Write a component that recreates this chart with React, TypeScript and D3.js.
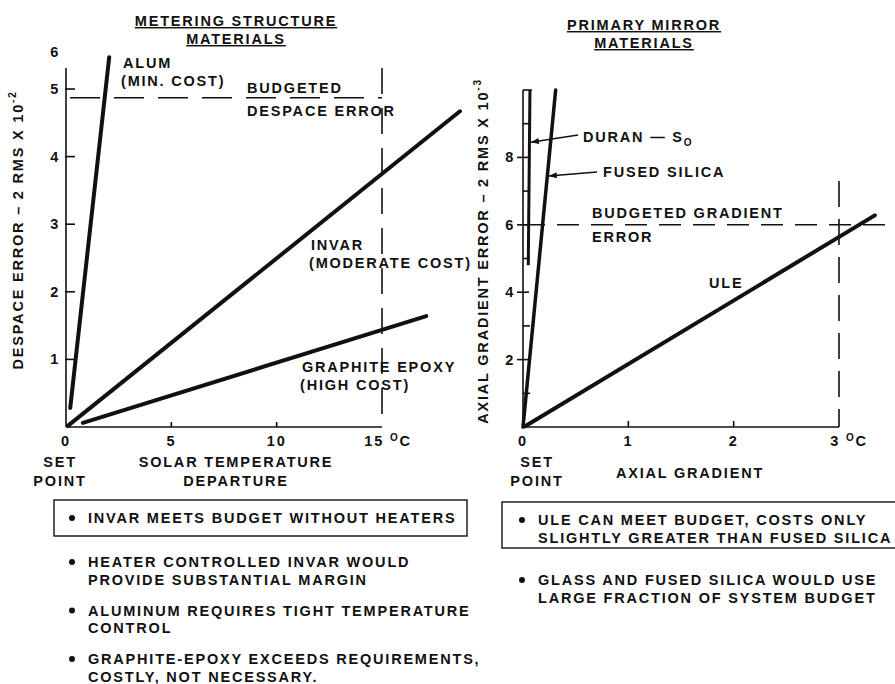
import React from 'react';
import * as d3 from 'd3';

type Pt = [number, number];

// ---- Metering structure materials: despace error (x10^-2) vs solar temperature departure (°C)
const meterXTicks = [0, 5, 10, 15];
const meterYTicks = [1, 2, 3, 4, 5];
const meterYTop = 5.31;
const alumLine: Pt[] = [[0.2, 0.28], [2.05, 5.47]];
const invarLine: Pt[] = [[0.1, 0.02], [18.7, 4.67]];
const graphiteLine: Pt[] = [[0.8, 0.06], [17.1, 1.64]];
const despaceBudget = 4.87;
const meterLimitTemp = 15;

// ---- Primary mirror materials: axial gradient error (x10^-3) vs axial gradient (°C)
const mirrorXTicks = [0, 1, 2, 3];
const mirrorYMajor = [2, 4, 6, 8];
const mirrorYMinor = [1, 3, 5, 7, 9];
const mirrorYTop = 10;
const duranLine: Pt[] = [[0.05, 4.8], [0.066, 10]];
const fusedSilicaLine: Pt[] = [[0, 0], [0.31, 10]];
const uleLine: Pt[] = [[0.02, 0.02], [3.34, 6.28]];
const gradientBudget = 6;
const gradientBudgetEnd = 3.46;
const mirrorLimitGrad = 3;
const mirrorLimitTop = 7.3;

const meterBoxed = ['INVAR MEETS BUDGET WITHOUT HEATERS'];
const meterNotes = [
  ['HEATER CONTROLLED INVAR WOULD', 'PROVIDE SUBSTANTIAL MARGIN'],
  ['ALUMINUM REQUIRES TIGHT TEMPERATURE', 'CONTROL'],
  ['GRAPHITE-EPOXY EXCEEDS REQUIREMENTS,', 'COSTLY, NOT NECESSARY.'],
];
const mirrorBoxed = ['ULE CAN MEET BUDGET, COSTS ONLY', 'SLIGHTLY GREATER THAN FUSED SILICA'];
const mirrorNotes = [['GLASS AND FUSED SILICA WOULD USE', 'LARGE FRACTION OF SYSTEM BUDGET']];

const FONT = '"Liberation Sans", Arial, Helvetica, sans-serif';
const INK = '#111';

const txt = {
  fontFamily: FONT,
  fontSize: 14.5,
  fontWeight: 700,
  fill: INK,
  letterSpacing: 1.8,
} as const;

export default function App() {
  // scales
  const xL = d3.scaleLinear().domain([0, 15]).range([66, 382]);
  const yL = d3.scaleLinear().domain([0, 5]).range([427, 89]);
  const xR = d3.scaleLinear().domain([0, 3]).range([523, 839]);
  const yR = d3.scaleLinear().domain([0, 10]).range([427, 90]);

  const lineL = d3.line<Pt>().x((d) => xL(d[0])).y((d) => yL(d[1]));
  const lineR = d3.line<Pt>().x((d) => xR(d[0])).y((d) => yR(d[1]));

  const dataStroke = { stroke: INK, strokeWidth: 4, fill: 'none', strokeLinecap: 'round' as const };
  const axisStroke = { stroke: INK, strokeWidth: 1.6, fill: 'none' };
  const dashStroke = { stroke: INK, strokeWidth: 1.6, fill: 'none' };

  const Title = ({ cx, y, lines }: { cx: number; y: number; lines: string[] }) => (
    <g>
      {lines.map((s, i) => (
        <text key={i} x={cx} y={y + i * 18} textAnchor="middle" style={{ ...txt, textDecoration: 'underline' }}>
          {s}
        </text>
      ))}
    </g>
  );

  const Bullets = ({ x, y, items, gap }: { x: number; y: number; items: string[][]; gap: number }) => {
    let cy = y;
    return (
      <g>
        {items.map((lines, i) => {
          const g = (
            <g key={i}>
              <circle cx={x + 4} cy={cy - 5} r={3} fill={INK} />
              {lines.map((s, j) => (
                <text key={j} x={x + 20} y={cy + j * 17.5} style={txt}>
                  {s}
                </text>
              ))}
            </g>
          );
          cy += (lines.length - 1) * 17.5 + gap;
          return g;
        })}
      </g>
    );
  };

  const arrowHead = (tip: [number, number], from: [number, number]) => {
    const a = Math.atan2(tip[1] - from[1], tip[0] - from[0]);
    const L = 8;
    const w = 3;
    const bx = tip[0] - L * Math.cos(a);
    const by = tip[1] - L * Math.sin(a);
    const px = -Math.sin(a) * w;
    const py = Math.cos(a) * w;
    return `M${tip[0]},${tip[1]}L${bx + px},${by + py}L${bx - px},${by - py}Z`;
  };

  const duranTip: [number, number] = [xR(0.075), yR(8.45)];
  const duranFrom: [number, number] = [578, 135];
  const silicaTip: [number, number] = [xR(0.245), yR(7.45)];
  const silicaFrom: [number, number] = [597, 172];

  return (
    <svg
      width={895}
      height={684}
      viewBox="0 0 895 684"
      style={{ position: 'absolute', left: 0, top: 0, background: '#fff' }}
    >
      <rect width={895} height={684} fill="#fff" />

      {/* ===== Left panel: metering structure ===== */}
      <Title cx={236} y={26} lines={['METERING STRUCTURE', 'MATERIALS']} />

      {/* axes */}
      <line x1={xL(0)} y1={yL(0)} x2={xL(0)} y2={yL(meterYTop)} style={axisStroke} />
      <line x1={xL(0)} y1={yL(0)} x2={xL(15)} y2={yL(0)} style={axisStroke} />
      {meterYTicks.map((t) => (
        <g key={t}>
          <line x1={xL(0) - 1} x2={xL(0) + 9} y1={yL(t)} y2={yL(t)} style={axisStroke} />
          <text x={xL(0) - 6} y={yL(t) + 5} textAnchor="end" style={txt}>
            {t}
          </text>
        </g>
      ))}
      <text x={xL(0) - 6} y={yL(meterYTop) - 11} textAnchor="end" style={txt}>
        6
      </text>
      {meterXTicks.map((t) => (
        <g key={t}>
          {t > 0 && t < 15 && (
            <line x1={xL(t)} x2={xL(t)} y1={yL(0)} y2={yL(0) - 5} style={axisStroke} />
          )}
          <text x={xL(t)} y={yL(0) + 19} textAnchor={t === 15 ? 'end' : 'middle'} dx={t === 15 ? 2 : 0} style={txt}>
            {t}
          </text>
        </g>
      ))}
      <text x={xL(15) + 8} y={yL(0) + 19} style={txt}>
        <tspan fontSize={10} dy={-5}>O</tspan>
        <tspan dy={5}>C</tspan>
      </text>

      {/* budget & limit */}
      <line x1={xL(0)} x2={xL(meterLimitTemp)} y1={yL(despaceBudget)} y2={yL(despaceBudget)} style={dashStroke} strokeDasharray="30 14" strokeDashoffset={-4} />
      <line x1={xL(meterLimitTemp)} x2={xL(meterLimitTemp)} y1={yL(meterYTop)} y2={yL(0)} style={dashStroke} strokeDasharray="26 14" />

      {/* material curves */}
      <path d={lineL(alumLine) ?? ''} style={dataStroke} />
      <path d={lineL(invarLine) ?? ''} style={dataStroke} />
      <path d={lineL(graphiteLine) ?? ''} style={dataStroke} />

      {/* labels */}
      <text x={123} y={68} style={txt}>ALUM</text>
      <text x={121} y={86} style={txt}>(MIN. COST)</text>
      <text x={247} y={93} style={txt}>BUDGETED</text>
      <text x={247} y={116} style={txt}>DESPACE ERROR</text>
      <text x={311} y={250} style={txt}>INVAR</text>
      <text x={309} y={268} style={txt}>(MODERATE COST)</text>
      <text x={302} y={372} style={txt}>GRAPHITE EPOXY</text>
      <text x={300} y={390} style={txt}>(HIGH COST)</text>

      {/* y label */}
      <text transform={`translate(23,${230}) rotate(-90)`} textAnchor="middle" style={txt}>
        DESPACE ERROR – 2 RMS X 10
        <tspan fontSize={10} dy={-7}>-2</tspan>
      </text>

      {/* x labels */}
      <text x={60} y={467} textAnchor="middle" style={txt}>SET</text>
      <text x={60} y={486} textAnchor="middle" style={txt}>POINT</text>
      <text x={236} y={467} textAnchor="middle" style={txt}>SOLAR TEMPERATURE</text>
      <text x={236} y={486} textAnchor="middle" style={txt}>DEPARTURE</text>

      {/* notes */}
      <rect x={54} y={500} width={413} height={36} fill="none" stroke={INK} strokeWidth={1.4} />
      <Bullets x={68} y={523} items={[meterBoxed]} gap={0} />
      <Bullets x={68} y={567} items={meterNotes} gap={31} />

      {/* ===== Right panel: primary mirror ===== */}
      <Title cx={644} y={30} lines={['PRIMARY MIRROR', 'MATERIALS']} />

      <line x1={xR(0)} y1={yR(0)} x2={xR(0)} y2={yR(mirrorYTop)} style={axisStroke} />
      <line x1={xR(0)} y1={yR(mirrorYTop)} x2={xR(0.085)} y2={yR(mirrorYTop)} style={axisStroke} />
      <line x1={xR(0)} y1={yR(0)} x2={xR(3)} y2={yR(0)} style={axisStroke} />
      {mirrorYMajor.map((t) => (
        <g key={t}>
          <line x1={xR(0) - 6} x2={xR(0) + 6} y1={yR(t)} y2={yR(t)} style={axisStroke} />
          <text x={xR(0) - 8} y={yR(t) + 5} textAnchor="end" style={txt}>
            {t}
          </text>
        </g>
      ))}
      {mirrorYMinor.map((t) => (
        <line key={t} x1={xR(0)} x2={xR(0) + 7} y1={yR(t)} y2={yR(t)} style={axisStroke} />
      ))}
      {mirrorXTicks.map((t) => (
        <g key={t}>
          {t > 0 && t < 3 && <line x1={xR(t)} x2={xR(t)} y1={yR(0)} y2={yR(0) - 6} style={axisStroke} />}
          <text x={xR(t)} y={yR(0) + 19} textAnchor={t === 3 ? 'end' : 'middle'} dx={t === 3 ? 1 : 0} style={txt}>
            {t}
          </text>
        </g>
      ))}
      <text x={xR(3) + 7} y={yR(0) + 19} style={txt}>
        <tspan fontSize={10} dy={-5}>O</tspan>
        <tspan dy={5}>C</tspan>
      </text>

      <line x1={xR(0)} x2={xR(gradientBudgetEnd)} y1={yR(gradientBudget)} y2={yR(gradientBudget)} style={dashStroke} strokeDasharray="22 12" />
      <line x1={xR(mirrorLimitGrad)} x2={xR(mirrorLimitGrad)} y1={yR(mirrorLimitTop)} y2={yR(0)} style={dashStroke} strokeDasharray="26 12" />

      <path d={lineR(duranLine) ?? ''} style={{ ...dataStroke, strokeWidth: 3, strokeLinecap: 'butt' }} />
      <path d={lineR(fusedSilicaLine) ?? ''} style={{ ...dataStroke, strokeWidth: 3.5 }} />
      <path d={lineR(uleLine) ?? ''} style={dataStroke} />

      {/* leaders */}
      <line x1={duranFrom[0]} y1={duranFrom[1]} x2={duranTip[0]} y2={duranTip[1]} stroke={INK} strokeWidth={1.6} />
      <path d={arrowHead(duranTip, duranFrom)} fill={INK} />
      <line x1={silicaFrom[0]} y1={silicaFrom[1]} x2={silicaTip[0]} y2={silicaTip[1]} stroke={INK} strokeWidth={1.6} />
      <path d={arrowHead(silicaTip, silicaFrom)} fill={INK} />

      <text x={583} y={142} style={txt}>
        DURAN — S<tspan fontSize={10} dy={4}>O</tspan>
      </text>
      <text x={603} y={177} style={txt}>FUSED SILICA</text>
      <text x={592} y={218} style={txt}>BUDGETED GRADIENT</text>
      <text x={592} y={242} style={txt}>ERROR</text>
      <text x={709} y={288} style={txt}>ULE</text>

      <text transform={`translate(488,${251}) rotate(-90)`} textAnchor="middle" style={txt}>
        AXIAL GRADIENT ERROR – 2 RMS X 10
        <tspan fontSize={10} dy={-7}>-3</tspan>
      </text>

      <text x={537} y={467} textAnchor="middle" style={txt}>SET</text>
      <text x={537} y={486} textAnchor="middle" style={txt}>POINT</text>
      <text x={690} y={478} textAnchor="middle" style={txt}>AXIAL GRADIENT</text>

      <rect x={502} y={502} width={400} height={46} fill="none" stroke={INK} strokeWidth={1.4} />
      <Bullets x={518} y={525} items={[mirrorBoxed]} gap={0} />
      <Bullets x={518} y={585} items={mirrorNotes} gap={31} />
    </svg>
  );
}
